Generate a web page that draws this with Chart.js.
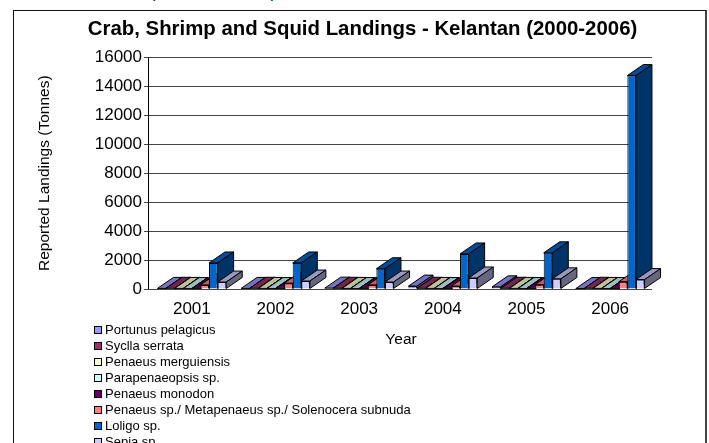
<!DOCTYPE html>
<html>
<head>
<meta charset="utf-8">
<script src="https://cdn.jsdelivr.net/npm/chart.js@4"></script>
<style>
html, body { margin: 0; padding: 0; background: #fff; overflow: hidden; width: 709px; height: 443px; }
body { position: relative; font-family: "Liberation Sans", Arial, sans-serif; color: #000; }
#frame { position: absolute; left: 13px; top: 10px; width: 691px; height: 460px; border: 1px solid #111; border-right: 2px solid #444; }
#clipped { position: absolute; left: 150px; top: -17px; width: 126px; font-size: 16px; line-height: 20px; text-align-last: justify; }
#chart { position: absolute; left: 0; top: 0; }
#legend { position: absolute; left: 0; top: 0; }
.item { position: absolute; left: 94px; font-size: 13px; line-height: 14px; white-space: nowrap; }
.item i { position: absolute; left: 0; top: 3px; width: 6px; height: 6px; border: 1px solid #000; }
.item span { position: absolute; left: 11px; top: 0; }
</style>
</head>
<body>
<div id="frame"></div>
<div id="clipped">( )</div>
<canvas id="chart" width="709" height="443"></canvas>
<div id="legend"></div>
<script>
const years = ['2001', '2002', '2003', '2004', '2005', '2006'];

const portunus = [40, 40, 60, 200, 150, 30];
const syclla = [50, 50, 50, 50, 50, 50];
const merguiensis = [40, 40, 40, 40, 40, 40];
const parapenaeopsis = [30, 30, 30, 30, 30, 30];
const monodon = [20, 20, 20, 20, 20, 20];
const penaeusSp = [280, 400, 280, 200, 300, 500];
const loligo = [1800, 1800, 1400, 2420, 2500, 14750];
const sepia = [480, 550, 480, 760, 700, 650];

const seriesNames = ['Portunus pelagicus', 'Syclla serrata', 'Penaeus merguiensis', 'Parapenaeopsis sp.',
    'Penaeus monodon', 'Penaeus sp./ Metapenaeus sp./ Solenocera subnuda', 'Loligo sp.', 'Sepia sp.'];
const seriesValues = [portunus, syclla, merguiensis, parapenaeopsis, monodon, penaeusSp, loligo, sepia];
const seriesColors = ['#9999FF', '#993366', '#FFFFCC', '#CCFFFF', '#660066', '#FF8080', '#0066CC', '#CCCCFF'];

const depthX = 16;
const depthY = 11;

function shade(hex, f) {
    const n = parseInt(hex.slice(1), 16);
    const r = Math.round((n >> 16 & 255) * f);
    const g = Math.round((n >> 8 & 255) * f);
    const b = Math.round((n & 255) * f);
    return 'rgb(' + r + ',' + g + ',' + b + ')';
}

function face(ctx, pts, color) {
    ctx.beginPath();
    ctx.moveTo(pts[0][0], pts[0][1]);
    for (let i = 1; i < pts.length; i++) ctx.lineTo(pts[i][0], pts[i][1]);
    ctx.closePath();
    ctx.fillStyle = color;
    ctx.fill();
    ctx.stroke();
}

// top and side faces go in first, the library then paints the front faces over them
const depthPlugin = {
    id: 'depth',
    beforeDatasetsDraw(chart) {
        const ctx = chart.ctx;
        const area = chart.chartArea;
        ctx.save();
        ctx.strokeStyle = '#000';
        ctx.lineWidth = 1;
        ctx.beginPath();
        ctx.moveTo(area.left - 1.5, area.top);
        ctx.lineTo(area.left - 1.5, area.bottom);
        ctx.stroke();
        chart.data.datasets.forEach(function(ds, i) {
            chart.getDatasetMeta(i).data.forEach(function(bar) {
                const p = bar.getProps(['x', 'y', 'base', 'width'], true);
                const l = p.x - p.width / 2;
                const r = p.x + p.width / 2;
                face(ctx, [[l, p.y], [l + depthX, p.y - depthY], [r + depthX, p.y - depthY], [r, p.y]], shade(ds.backgroundColor, 0.75));
                face(ctx, [[r, p.y], [r + depthX, p.y - depthY], [r + depthX, p.base - depthY], [r, p.base]], shade(ds.backgroundColor, 0.5));
            });
        });
        ctx.restore();
    }
};

new Chart(document.getElementById('chart'), {
    type: 'bar',
    data: {
        labels: years,
        datasets: seriesNames.map(function(name, i) {
            return {
                label: name,
                data: seriesValues[i],
                backgroundColor: seriesColors[i],
                borderColor: '#000',
                borderWidth: 1,
                barPercentage: 1,
                categoryPercentage: 0.822
            };
        })
    },
    options: {
        responsive: false,
        animation: false,
        layout: { padding: { left: 16, right: 0, top: 17, bottom: 94 } },
        plugins: {
            legend: { display: false },
            tooltip: { enabled: false },
            title: {
                display: true,
                text: 'Crab, Shrimp and Squid Landings - Kelantan (2000-2006)',
                color: '#000',
                font: { family: 'Liberation Sans', size: 20.4, weight: 'bold' },
                padding: { top: 0, bottom: 16 }
            }
        },
        scales: {
            x: {
                grid: { display: false },
                border: { display: false },
                ticks: { color: '#000', font: { family: 'Liberation Sans', size: 17 }, padding: 2 },
                title: { display: true, text: 'Year', color: '#000', font: { family: 'Liberation Sans', size: 15.5 }, padding: { top: 0, bottom: 0 } },
                afterFit(scale) { scale.height = 60; }
            },
            y: {
                min: 0,
                max: 16000,
                border: { display: false },
                grid: { color: '#444', tickLength: 6, lineWidth: 1 },
                ticks: { stepSize: 2000, color: '#000', font: { family: 'Liberation Sans', size: 17 }, padding: 2, callback: function(v) { return String(v); } },
                title: { display: true, text: 'Reported Landings (Tonnes)', color: '#000', font: { family: 'Liberation Sans', size: 15.5 }, padding: { top: 19, bottom: 0 } },
                afterFit(scale) { scale.width = 134; }
            },
            // empty axis, it only keeps the plot clear of the right edge so the title stays centred
            spare: {
                position: 'right',
                grid: { display: false },
                border: { display: false },
                ticks: { display: false },
                afterFit(scale) { scale.width = 57; }
            }
        }
    },
    plugins: [depthPlugin]
});

const legend = document.getElementById('legend');
seriesNames.forEach(function(name, i) {
    const row = document.createElement('div');
    row.className = 'item';
    row.style.top = (323 + i * 16) + 'px';
    const box = document.createElement('i');
    box.style.background = seriesColors[i];
    const text = document.createElement('span');
    text.textContent = name;
    row.appendChild(box);
    row.appendChild(text);
    legend.appendChild(row);
});
</script>
</body>
</html>
